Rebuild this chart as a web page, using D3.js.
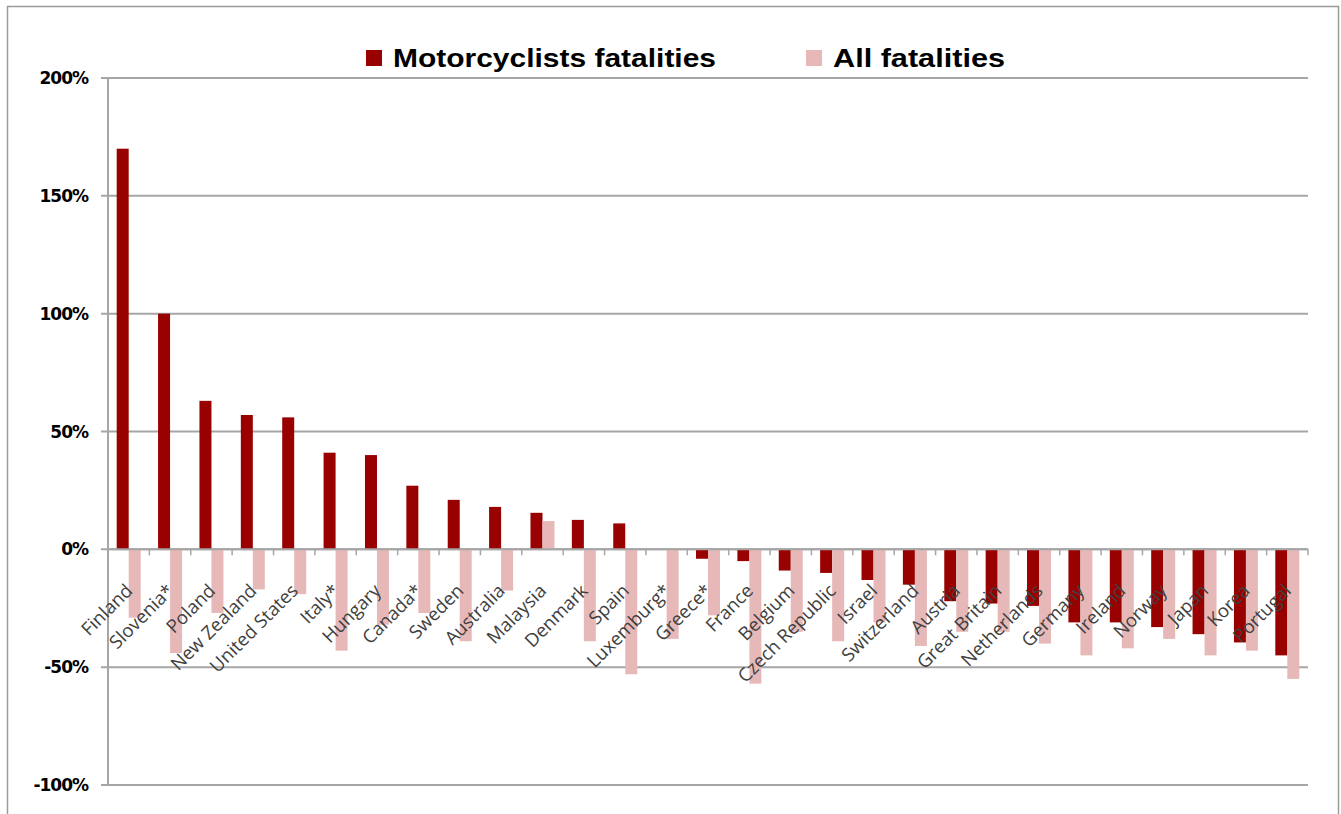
<!DOCTYPE html>
<html>
<head>
<meta charset="utf-8">
<script src="https://cdn.jsdelivr.net/npm/d3@7"></script>
<style>
body { margin: 0; background: #fff; }
</style>
</head>
<body>
<div id="figure"></div>
<script>

var countries = ["Finland", "Slovenia*", "Poland", "New Zealand", "United States", "Italy*", "Hungary", "Canada*", "Sweden", "Australia", "Malaysia", "Denmark", "Spain", "Luxemburg*", "Greece*", "France", "Belgium", "Czech Republic", "Israel", "Switzerland", "Austria", "Great Britain", "Netherlands", "Germany", "Ireland", "Norway", "Japan", "Korea", "Portugal"];

// % change
var motoValues = [170, 100, 63, 57, 56, 41, 40, 27, 21, 18, 15.5, 12.5, 11, 0, -4, -5, -9, -10, -13, -15, -22, -23, -24, -31, -31, -33, -36, -39.5, -45];
var allValues = [-29, -44, -27, -17, -19, -43, -32, -27, -39, -17.5, 12, -39, -53, -38, -28, -57, -35, -39, -31, -41, -35, -35, -40, -45, -42, -38, -45, -43, -55];

var yTicks = [-100, -50, 0, 50, 100, 150, 200];
var seriesNames = ["Motorcyclists fatalities", "All fatalities"];
var seriesColors = ["#990000", "#e6b9b8"];

var w = 1341, h = 814;
var plotLeft = 108, plotRight = 1308, plotTop = 78, plotBottom = 785;

var svg = d3.select("#figure").append("svg")
	.attr("width", w)
	.attr("height", h);

// outer frame
svg.append("rect")
	.attr("x", 7.5)
	.attr("y", 6.5)
	.attr("width", 1331)
	.attr("height", 830)
	.attr("fill", "none")
	.attr("stroke", "#9a9a9a")
	.attr("stroke-width", 1.5);

var y = d3.scaleLinear().domain([-100, 200]).range([plotBottom, plotTop]);
var x = d3.scaleBand().domain(countries).range([plotLeft, plotRight]).padding(0);
var x1 = d3.scaleBand().domain(["moto", "all"]).range([0, x.bandwidth()]).paddingInner(0).paddingOuter(0.724);

// gridlines
svg.selectAll("line.grid")
	.data(yTicks)
	.enter()
	.append("line")
	.attr("class", "grid")
	.attr("x1", plotLeft - 7)
	.attr("x2", plotRight)
	.attr("y1", function(d) { return y(d); })
	.attr("y2", function(d) { return y(d); })
	.attr("stroke", "#a6a6a6")
	.attr("stroke-width", 2);

// y axis line
svg.append("line")
	.attr("x1", plotLeft).attr("x2", plotLeft)
	.attr("y1", plotTop).attr("y2", plotBottom)
	.attr("stroke", "#a6a6a6")
	.attr("stroke-width", 2);

svg.selectAll("text.ylab")
	.data(yTicks)
	.enter()
	.append("text")
	.attr("class", "ylab")
	.attr("x", 88)
	.attr("y", function(d) { return y(d); })
	.attr("dy", "0.36em")
	.attr("text-anchor", "end")
	.attr("font-family", "DejaVu Sans")
	.attr("font-weight", "bold")
	.attr("font-size", "17px")
	.attr("letter-spacing", "-1px")
	.attr("fill", "#000")
	.text(function(d) { return d + "%"; });

// bars
var groups = svg.selectAll("g.cat")
	.data(countries)
	.enter()
	.append("g")
	.attr("class", "cat")
	.attr("transform", function(d) { return "translate(" + x(d) + ",0)"; });

groups.append("rect")
	.attr("x", x1("moto"))
	.attr("width", x1.bandwidth())
	.attr("y", function(d, i) { return y(Math.max(0, motoValues[i])); })
	.attr("height", function(d, i) { return Math.abs(y(motoValues[i]) - y(0)); })
	.attr("fill", seriesColors[0]);

groups.append("rect")
	.attr("x", x1("all"))
	.attr("width", x1.bandwidth())
	.attr("y", function(d, i) { return y(Math.max(0, allValues[i])); })
	.attr("height", function(d, i) { return Math.abs(y(allValues[i]) - y(0)); })
	.attr("fill", seriesColors[1]);

// x axis at 0 with tick marks
svg.append("line")
	.attr("x1", plotLeft).attr("x2", plotRight)
	.attr("y1", y(0)).attr("y2", y(0))
	.attr("stroke", "#a6a6a6")
	.attr("stroke-width", 2);

var tickPos = countries.map(function(d) { return x(d); }).concat([plotRight]);
svg.selectAll("line.xtick")
	.data(tickPos)
	.enter()
	.append("line")
	.attr("class", "xtick")
	.attr("x1", function(d) { return d; })
	.attr("x2", function(d) { return d; })
	.attr("y1", y(0))
	.attr("y2", y(0) + 6)
	.attr("stroke", "#a6a6a6")
	.attr("stroke-width", 1.5);

// category labels
svg.selectAll("text.xlab")
	.data(countries)
	.enter()
	.append("text")
	.attr("class", "xlab")
	.attr("transform", function(d) {
		return "translate(" + (x(d) + x.bandwidth() / 2 + 5) + "," + 592 + ") rotate(-45)";
	})
	.attr("text-anchor", "end")
	.attr("font-family", "Open Sans")
	.attr("font-size", "18.5px")
	.attr("fill", "#404040")
	.text(function(d) { return d; });

// legend
var legendX = [366, 806];
var legend = svg.selectAll("g.legend")
	.data(seriesNames)
	.enter()
	.append("g")
	.attr("class", "legend")
	.attr("transform", function(d, i) { return "translate(" + legendX[i] + ",0)"; });

legend.append("rect")
	.attr("x", 0)
	.attr("y", 50)
	.attr("width", 16)
	.attr("height", 16)
	.attr("fill", function(d, i) { return seriesColors[i]; });

legend.append("text")
	.attr("x", 27)
	.attr("y", 67)
	.attr("font-family", "Liberation Sans")
	.attr("font-weight", "bold")
	.attr("font-size", "25px")
	.attr("fill", "#000")
	.attr("textLength", function(d, i) { return [323, 172][i]; })
	.attr("lengthAdjust", "spacingAndGlyphs")
	.text(function(d) { return d; });

</script>
</body>
</html>
